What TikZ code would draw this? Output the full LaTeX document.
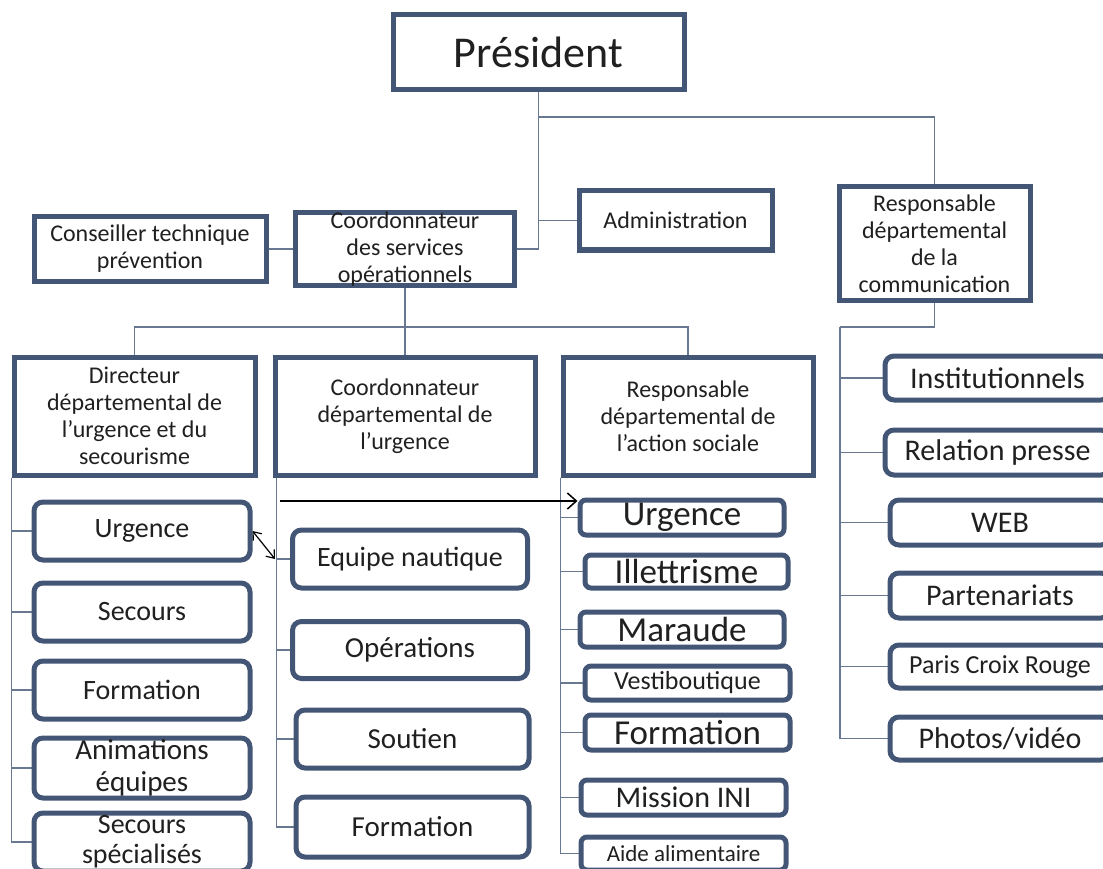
\documentclass[tikz,border=0pt]{standalone}
\usepackage{fontspec}
\setmainfont{Carlito}
\usepackage{tikz}
\usetikzlibrary{positioning,arrows.meta,backgrounds}
\definecolor{frame}{RGB}{68,86,118}
\definecolor{wire}{RGB}{105,120,145}
\definecolor{ink}{RGB}{32,32,32}
\newcommand{\fsz}[2]{\fontsize{#1}{#2}\selectfont}
\tikzset{
  head/.style={draw=frame,line width=5pt,fill=white,align=center,text=ink,inner sep=0pt,font=\fsz{24}{27}},
  leaf/.style={head,rounded corners=9pt,font=\fsz{28}{32}},
  conn/.style={wire,line width=1.5pt},
  ar/.style={-{Straight Barb[length=9pt,width=16pt]},line width=1.5pt,black},
  dar/.style={{Straight Barb[length=7pt,width=11pt]}-{Straight Barb[length=7pt,width=11pt]},line width=1.2pt,black},
}
\begin{document}
\begin{tikzpicture}[x=1pt,y=-1pt]
  \useasboundingbox (0,0) rectangle (1103,869);
  \clip (0,0) rectangle (1103,869);
  % top level
  \node[head,minimum width=291pt,minimum height=75pt,font=\fsz{44}{48}] (pres) at (538.5,52.5) {Président};
  \node[head,minimum width=232pt,minimum height=65pt] (cons) at (150,249) {Conseiller technique\\prévention};
  \node[head,minimum width=219pt,minimum height=72pt,inner ysep=-3pt] (coordserv) at (405,249) {Coordonnateur\\des services\\opérationnels};
  \node[head,minimum width=193pt,minimum height=59pt] (admin) at (675.5,220.5) {Administration};
  \node[head,minimum width=191pt,minimum height=113pt] (comm) at (934.5,243.5) {Responsable\\départemental\\de la\\communication};
  % second level
  \node[head,minimum width=241pt,minimum height=118pt] (dir) at (134.5,416) {Directeur\\départemental de\\l’urgence et du\\secourisme};
  \node[head,minimum width=260pt,minimum height=118pt] (coordurg) at (405,416) {Coordonnateur\\départemental de\\l’urgence};
  \node[head,minimum width=250pt,minimum height=118pt] (soc) at (688,416) {Responsable\\départemental de\\l’action sociale};
  % leaves: urgence et secourisme
  \node[leaf,minimum width=216pt,minimum height=58pt] (urg1) at (142,531) {Urgence};
  \node[leaf,minimum width=216pt,minimum height=58pt] (sec1) at (142,612) {Secours};
  \node[leaf,minimum width=216pt,minimum height=58pt] (form1) at (142,690) {Formation};
  \node[leaf,minimum width=216pt,minimum height=60pt,font=\fsz{29}{32}] (anim) at (142,768) {Animations\\équipes};
  \node[leaf,minimum width=216pt,minimum height=58pt,font=\fsz{28}{30}] (secsp) at (142,842) {Secours\\spécialisés};
  % leaves: coordination urgence
  \node[leaf,minimum width=235pt,minimum height=58pt] (naut) at (410,559) {Equipe nautique};
  \node[leaf,minimum width=235pt,minimum height=57pt,font=\fsz{29}{32}] (oper) at (410,650) {Opérations};
  \node[leaf,minimum width=233pt,minimum height=58pt,font=\fsz{29}{32}] (sout) at (412.5,739) {Soutien};
  \node[leaf,minimum width=233pt,minimum height=60pt,font=\fsz{29}{32}] (form2) at (412.5,827) {Formation};
  % leaves: action sociale
  \node[leaf,minimum width=204pt,minimum height=35pt,font=\fsz{35}{38},rounded corners=6pt] (urg3) at (682,517.5) {Urgence};
  \node[leaf,minimum width=203pt,minimum height=33pt,font=\fsz{35}{38},rounded corners=6pt] (illet) at (686.5,571.5) {Illettrisme};
  \node[leaf,minimum width=204pt,minimum height=35pt,font=\fsz{35}{38},rounded corners=6pt] (mara) at (682,629.5) {Maraude};
  \node[leaf,minimum width=205pt,minimum height=34pt,font=\fsz{26}{28},rounded corners=6pt] (vesti) at (687.5,683) {Vestiboutique};
  \node[leaf,minimum width=205pt,minimum height=35pt,font=\fsz{35}{38},rounded corners=6pt] (form3) at (687.5,732.5) {Formation};
  \node[leaf,minimum width=205pt,minimum height=35pt,font=\fsz{30}{32},rounded corners=6pt] (mini) at (683.5,797.5) {Mission INI};
  \node[leaf,minimum width=205pt,minimum height=33pt,font=\fsz{23}{25},rounded corners=6pt] (aide) at (683.5,853.5) {Aide alimentaire};
  % leaves: communication
  \node[leaf,minimum width=225pt,minimum height=44pt,font=\fsz{30}{32}] (inst) at (997.5,378) {Institutionnels};
  \node[leaf,minimum width=225pt,minimum height=45pt,font=\fsz{30}{32}] (presse) at (997.5,452.5) {Relation presse};
  \node[leaf,minimum width=220pt,minimum height=45pt,font=\fsz{30}{32}] (web) at (1000,522.5) {WEB};
  \node[leaf,minimum width=220pt,minimum height=45pt,font=\fsz{30}{32}] (part) at (1000,595.5) {Partenariats};
  \node[leaf,minimum width=220pt,minimum height=43pt,font=\fsz{26}{28}] (pcr) at (1000,666.5) {Paris Croix Rouge};
  \node[leaf,minimum width=220pt,minimum height=43pt,font=\fsz{30}{32}] (photo) at (1000,738.5) {Photos/vidéo};
  % connectors
  \coordinate (topbus) at (538.5,117);
  \coordinate (midbus) at (405,327);
  \coordinate (commbus) at (840,327);
  \coordinate (urgspine) at ([xshift=4pt]coordurg.south west);
  \coordinate (tap) at (280,501);
  \begin{scope}[on background layer]
    \draw[conn] (pres.south) |- (coordserv.east);
    \draw[conn] (pres.south) |- (admin.west);
    \draw[conn] (topbus) -| (comm.north);
    \draw[conn] (cons.east) -- (coordserv.west);
    \draw[conn] (coordserv.south) -- (coordurg.north);
    \draw[conn] (dir.north) |- (midbus) -| (soc.north);
    \draw[conn] (comm.south) |- (commbus);
    \foreach \c in {urg1,sec1,form1,anim,secsp}
      \draw[conn] (dir.south west) |- (\c.west);
    \foreach \c in {naut,oper,sout,form2}
      \draw[conn] (urgspine) |- (\c.west);
    \foreach \c in {urg3,illet,mara,vesti,form3,mini,aide}
      \draw[conn] (soc.south west) |- (\c.west);
    \foreach \c in {inst,presse,web,part,pcr,photo}
      \draw[conn] (commbus) |- (\c.west);
  \end{scope}
  \draw[ar] (tap) -- (tap -| urg3.west);
  \draw[dar] (urg1.east) -- ([xshift=-15pt]naut.west);
\end{tikzpicture}
\end{document}
